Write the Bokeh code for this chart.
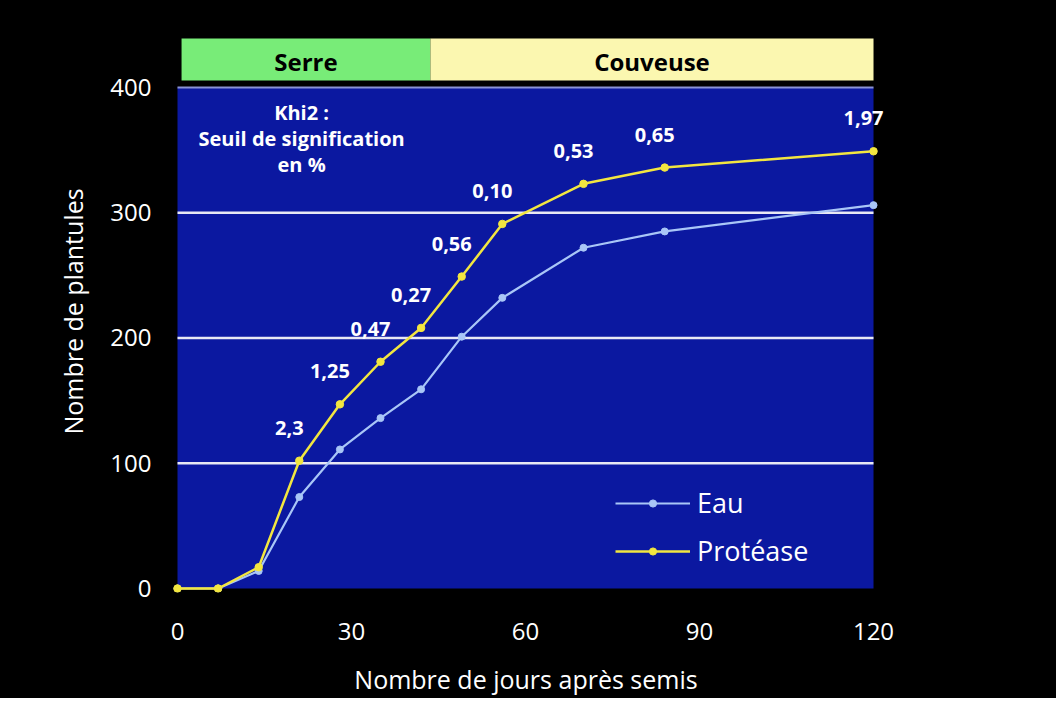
from bokeh.plotting import figure
from bokeh.models import Range1d, FixedTicker, Legend, LegendItem, Label, ColumnDataSource
from bokeh.core.properties import value
from bokeh.embed import file_html
from bokeh.resources import INLINE

# ---- data ----
days = [0, 7, 14, 21, 28, 35, 42, 49, 56, 70, 84, 120]
eau = [0, 0, 14, 73, 111, 136, 159, 201, 232, 272, 285, 306]
protease = [0, 0, 17, 102, 147, 181, 208, 249, 291, 323, 336, 349]
khi2_days = [21, 28, 35, 42, 49, 56, 70, 84, 120]
khi2_labels = ["2,3", "1,25", "0,47", "0,27", "0,56", "0,10", "0,53", "0,65", "1,97"]
x_ticks = [0, 30, 60, 90, 120]
y_ticks = [0, 100, 200, 300, 400]
phase_names = ["Serre", "Couveuse"]
phase_start = [0.7, 43.6]
phase_end = [43.6, 120]
phase_colors = ["#78ec78", "#fbf7b0"]
note_lines = ["Khi2 :", "Seuil de signification", "en %"]

FONT = "Open Sans"
BLUE = "#0b18a0"
YEL = "#f2e640"
LBLUE = "#a9c6f7"

p = figure(width=1056, height=698, output_backend="svg", toolbar_location=None,
           x_range=Range1d(-2.93, 123.1), y_range=Range1d(-3.19, 445.4),
           min_border_left=160, min_border_right=165, min_border_top=30, min_border_bottom=105,
           background_fill_color="black", border_fill_color="black", outline_line_color=None)
p.styles = {"background-color": "black"}
p.xgrid.visible = False
p.ygrid.visible = False

# plot area
p.quad(left=x_ticks[0], right=x_ticks[-1], bottom=y_ticks[0], top=y_ticks[-1],
       fill_color=BLUE, line_color=None)
for yv in y_ticks[1:-1]:
    p.segment(x0=x_ticks[0], x1=x_ticks[-1], y0=yv, y1=yv, line_color="#e8e8f4", line_width=2.5)
p.segment(x0=x_ticks[0], x1=x_ticks[-1], y0=y_ticks[-1], y1=y_ticks[-1], line_color="#8a92d4", line_width=2)

# phase bars
ph = ColumnDataSource(dict(name=phase_names, left=phase_start, right=phase_end, color=phase_colors,
                           mid=[(a + b) / 2 for a, b in zip(phase_start, phase_end)]))
p.quad(left="left", right="right", bottom=405.5, top=439, fill_color="color", line_color=None, source=ph)
p.text(x="mid", y=421, text="name", source=ph, text_align="center", text_baseline="middle",
       text_color="black", text_font=value(FONT), text_font_size="24px", text_font_style="bold")

# series
src = ColumnDataSource(dict(d=days, e=eau, pr=protease))
le = p.line("d", "e", source=src, line_color=LBLUE, line_width=2.2)
se = p.scatter("d", "e", source=src, size=7, fill_color=LBLUE, line_color=LBLUE)
lp = p.line("d", "pr", source=src, line_color=YEL, line_width=2.5)
sp = p.scatter("d", "pr", source=src, size=7.5, fill_color=YEL, line_color=YEL)

# khi2 labels
lookup = dict(zip(days, protease))
ks = ColumnDataSource(dict(x=khi2_days, y=[lookup[d] for d in khi2_days], t=khi2_labels))
p.text(x="x", y="y", text="t", source=ks, x_offset=-10, y_offset=-33,
       text_align="center", text_baseline="middle", text_color="white",
       text_font=value(FONT), text_font_size="20px", text_font_style="bold")

for i, line in enumerate(note_lines):
    p.add_layout(Label(x=21.4, y=380 - i * 20.7, text=line, text_align="center", text_baseline="middle",
                       text_color="white", text_font=FONT, text_font_size="20px", text_font_style="bold"))

# axes
for ax in (p.xaxis[0], p.yaxis[0]):
    ax.axis_line_color = None
    ax.major_tick_line_color = None
    ax.minor_tick_line_color = None
    ax.major_label_text_color = "white"
    ax.major_label_text_font = FONT
    ax.major_label_text_font_size = "24px"
    ax.axis_label_text_color = "white"
    ax.axis_label_text_font = FONT
    ax.axis_label_text_font_size = "25px"
    ax.axis_label_text_font_style = "normal"
p.xaxis.ticker = FixedTicker(ticks=x_ticks)
p.yaxis.ticker = FixedTicker(ticks=y_ticks)
p.xaxis.axis_label = "Nombre de jours après semis"
p.yaxis.axis_label = "Nombre de plantules"
p.xaxis.major_label_standoff = 24
p.xaxis.axis_label_standoff = 19
p.yaxis.major_label_standoff = 3
p.yaxis.axis_label_standoff = 17

legend = Legend(items=[LegendItem(label="Eau", renderers=[le, se]),
                       LegendItem(label="Protéase", renderers=[lp, sp])],
                location=(455, 23), orientation="vertical",
                glyph_width=75, glyph_height=18, label_height=37, label_standoff=7, spacing=11,
                padding=0, margin=0, background_fill_alpha=0, border_line_color=None,
                label_text_color="white", label_text_font=FONT, label_text_font_size="27px")
p.add_layout(legend, "center")

open("out.html", "w").write(file_html(p, INLINE))
